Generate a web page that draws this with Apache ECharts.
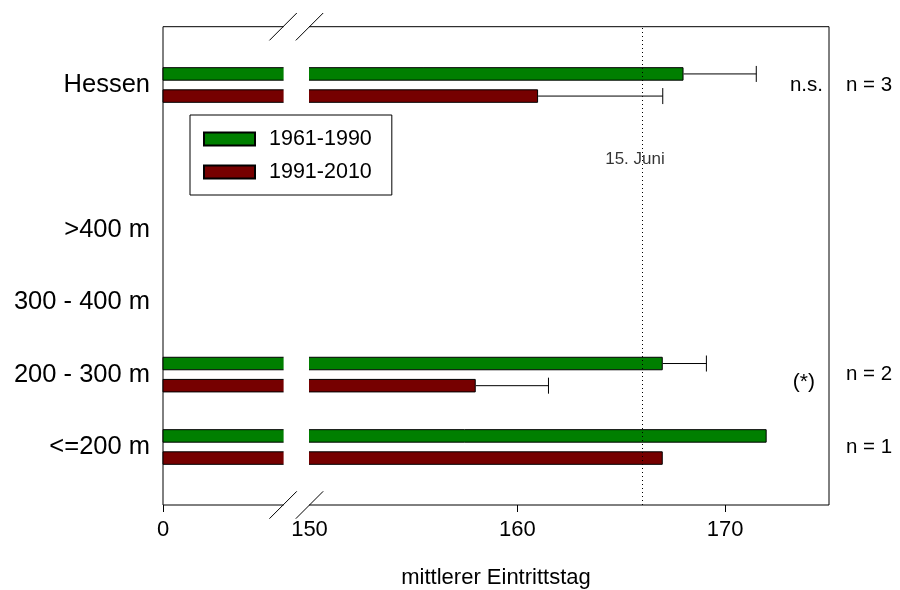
<!DOCTYPE html>
<html><head><meta charset="utf-8">
<script src="https://cdn.jsdelivr.net/npm/echarts@6/dist/echarts.min.js"></script>
<style>html,body{margin:0;padding:0;background:#fff}#c{width:900px;height:590px}</style>
</head><body><div id="c"></div>
<script>
// ---- data ----
const categories = ['<=200 m', '200 - 300 m', '300 - 400 m', '>400 m', '', 'Hessen'];
const seriesNames = ['1961-1990', '1991-2010'];
const mean6190 = [172.0, 167.0, null, null, null, 168.0];
const mean9110 = [167.0, 158.0, null, null, null, 161.0];
const upper6190 = [null, 169.1, null, null, null, 171.5];
const upper9110 = [null, 161.5, null, null, null, 167.0];
const nLabels = ['n = 1', 'n = 2', '', '', '', 'n = 3'];
const sigLabels = ['', '(*)', '', '', '', 'n.s.'];
const xMin = 142.95, xMax = 175;           // left end of broken axis is labelled 0
const tickValues = [142.95, 150, 160, 170];
const tickTexts = ['0', '150', '160', '170'];
const breakFrom = 148.73, breakTo = 150;
const refDay = 166, refLabel = '15. Juni', refLabelPos = 0.723;
const xTitle = 'mittlerer Eintrittstag';

(function () {
const FONT = 'Liberation Sans, Arial, sans-serif';
const GREEN = '#007f00', RED = '#760000';
function errData(means, uppers) {
  const out = [];
  for (let i = 0; i < means.length; i++) {
    if (means[i] != null && uppers[i] != null) out.push([means[i], uppers[i], i]);
  }
  return out;
}
function errRender(sign) {
  return function (params, api) {
    const ci = api.value(2);
    const p1 = api.coord([api.value(0), ci]);
    const p2 = api.coord([api.value(1), ci]);
    const band = api.size([0, 1])[1];
    const y = p1[1] + sign * band * 0.153;
    const st = { stroke: '#000', lineWidth: 1 };
    return { type: 'group', children: [
      { type: 'line', shape: { x1: p1[0], y1: y, x2: p2[0], y2: y }, style: st },
      { type: 'line', shape: { x1: p2[0], y1: y - 8, x2: p2[0], y2: y + 8 }, style: st }
    ]};
  };
}
const chart = echarts.init(document.getElementById('c'), null, { renderer: 'canvas' });
const option = {
  animation: false,
  textStyle: { fontFamily: FONT, color: '#000' },
  grid: [
    { left: 163, right: 71, top: 48.8, bottom: 106.8, outerBoundsMode: 'none', containLabel: false },
    { left: 163, right: 71, top: 26.7, bottom: 85, outerBoundsMode: 'none', containLabel: false,
      show: true, borderColor: '#000', borderWidth: 1, backgroundColor: 'transparent' }
  ],
  legend: {
    data: seriesNames, orient: 'vertical', left: 190, top: 115, z: 300,
    backgroundColor: '#fff',
    borderColor: '#000', borderWidth: 1, borderRadius: 0,
    padding: [13, 20, 12, 13], itemWidth: 51, itemHeight: 13, itemGap: 11,
    icon: 'rect',
    textStyle: { fontSize: 21.5, color: '#000', fontFamily: FONT, padding: [0, 0, 0, 9] }
  },
  xAxis: [
    { gridIndex: 0, type: 'value', min: xMin, max: xMax, show: false },
    { gridIndex: 1, type: 'value', min: xMin, max: xMax,
      splitLine: { show: false }, axisLine: { show: false },
      axisTick: { show: true, length: 7, lineStyle: { color: '#000' }, customValues: [tickValues[0], tickValues[2], tickValues[3]] },
      axisLabel: { customValues: tickValues, margin: 14, fontSize: 22, color: '#000', fontFamily: FONT,
        formatter: function (v) { for (let i = 0; i < tickValues.length; i++) if (Math.abs(v - tickValues[i]) < 0.01) return tickTexts[i]; return ''; } },
      name: xTitle, nameLocation: 'middle', nameGap: 62,
      nameTextStyle: { fontSize: 22, color: '#000', fontFamily: FONT } }
  ],
  yAxis: [
    { gridIndex: 0, type: 'category', data: categories,
      axisLine: { show: false }, axisTick: { show: false }, splitLine: { show: false },
      axisLabel: { fontSize: 25.5, color: '#000', margin: 13, fontFamily: FONT } },
    { gridIndex: 0, type: 'category', data: categories, position: 'right',
      axisLine: { show: false }, axisTick: { show: false },
      axisLabel: { fontSize: 20.5, color: '#000', margin: 17, align: 'left', fontFamily: FONT,
        formatter: function (v, i) { return nLabels[i]; } } },
    { gridIndex: 0, type: 'category', data: categories, position: 'right',
      axisLine: { show: false }, axisTick: { show: false },
      axisLabel: { inside: true, fontSize: 20.5, color: '#000', margin: 6, fontFamily: FONT,
        formatter: function (v, i) { const s = sigLabels[i]; return s === '(*)' ? '{o|' + s + '}' : s; },
        rich: { o: { fontSize: 21, fontFamily: FONT, color: '#000', padding: [16, 8, 0, 0] } } } },
    { gridIndex: 1, type: 'value', min: 0, max: 1, show: false }
  ],
  series: [
    { name: seriesNames[0], type: 'bar', xAxisIndex: 0, yAxisIndex: 0, data: mean6190,
      barWidth: 13.5, barGap: '64%', itemStyle: { color: GREEN, borderColor: '#000', borderWidth: 1 } },
    { name: seriesNames[1], type: 'bar', xAxisIndex: 0, yAxisIndex: 0, data: mean9110,
      barWidth: 13.5, barGap: '64%', itemStyle: { color: RED, borderColor: '#000', borderWidth: 1 } },
    { type: 'custom', xAxisIndex: 0, yAxisIndex: 0, data: errData(mean6190, upper6190),
      encode: { x: [0, 1], y: 2 }, renderItem: errRender(-1), z: 3 },
    { type: 'custom', xAxisIndex: 0, yAxisIndex: 0, data: errData(mean9110, upper9110),
      encode: { x: [0, 1], y: 2 }, renderItem: errRender(1), z: 3 },
    { type: 'scatter', xAxisIndex: 1, yAxisIndex: 3, data: [[refDay, refLabelPos]], symbolSize: 0, silent: true,
      label: { show: true, position: 'inside', offset: [-7, 0], formatter: refLabel, fontSize: 17, color: '#000', fontFamily: FONT },
      markLine: { symbol: 'none', silent: true, label: { show: false },
        lineStyle: { color: '#000', width: 1, type: [1, 3] }, data: [{ xAxis: refDay }] } }
  ]
};
chart.setOption(option);

// axis break decoration
const rect = chart.getModel().getComponent('grid', 1).coordinateSystem.getRect();
const xa = chart.convertToPixel({ xAxisIndex: 1 }, breakFrom);
const xb = chart.convertToPixel({ xAxisIndex: 1 }, breakTo);
const yTop = rect.y, yBot = rect.y + rect.height, h = 13.7;
const ln = { stroke: '#000', lineWidth: 1 };
const slash = (cx, cy) => ({ type: 'line', z: 101, shape: { x1: cx - h, y1: cy + h, x2: cx + h, y2: cy - h }, style: ln });
chart.setOption({ graphic: [
  { type: 'rect', z: 100, shape: { x: xa + 0.5, y: yTop - 4, width: xb - xa - 1, height: yBot - yTop + 8 }, style: { fill: '#fff' } },
  slash(xa, yTop), slash(xb, yTop), slash(xa, yBot), slash(xb, yBot)
]});
})();
</script>
</body></html>
